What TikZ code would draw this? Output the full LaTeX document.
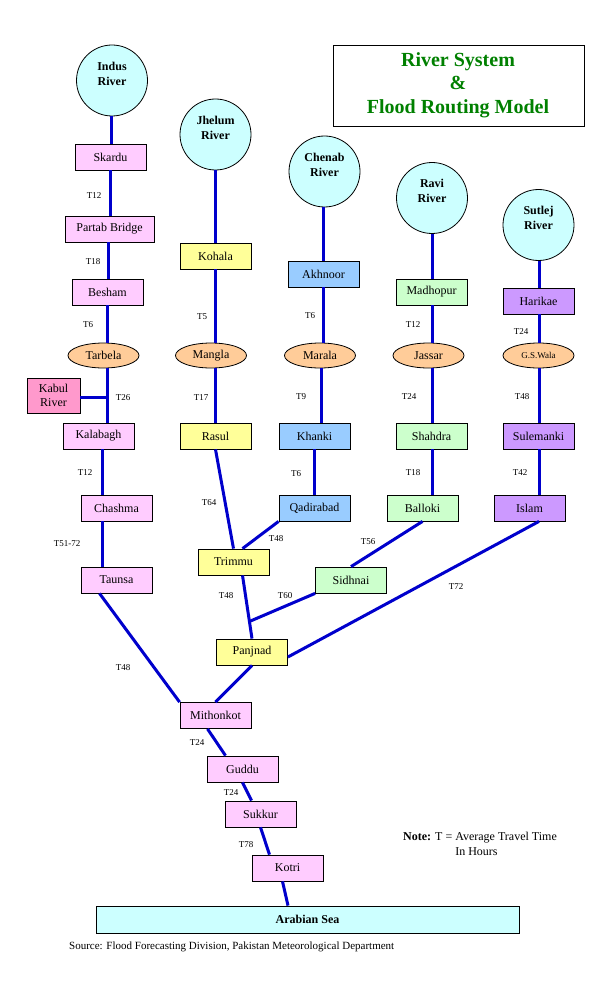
\documentclass[tikz,border=0pt]{standalone}
\usepackage{fontspec}
\setmainfont{Liberation Serif}
\usetikzlibrary{shapes.geometric}
\definecolor{riverblue}{RGB}{0,0,204}
\definecolor{pinkc}{RGB}{255,204,255}
\definecolor{kabulc}{RGB}{255,153,204}
\definecolor{yellowc}{RGB}{255,255,153}
\definecolor{bluec}{RGB}{153,204,255}
\definecolor{greenc}{RGB}{204,255,204}
\definecolor{purplec}{RGB}{204,153,255}
\definecolor{orangec}{RGB}{255,204,153}
\definecolor{cyanc}{RGB}{204,255,255}
\definecolor{titlegreen}{RGB}{0,128,0}
\begin{document}
\begin{tikzpicture}[x=1pt,y=-1pt,
  stbox/.style={draw=black, line width=0.8pt, rectangle, minimum width=71pt, minimum height=26pt, inner sep=0pt, font=\fontsize{12}{14}\selectfont},
  pinkbox/.style={stbox, fill=pinkc},
  yellowbox/.style={stbox, fill=yellowc},
  bluebox/.style={stbox, fill=bluec},
  greenbox/.style={stbox, fill=greenc},
  purplebox/.style={stbox, fill=purplec},
  dam/.style={draw=black, line width=0.8pt, ellipse, fill=orangec, minimum width=71pt, minimum height=25pt, inner sep=0pt, font=\fontsize{12}{14}\selectfont},
  source/.style={draw=black, line width=0.8pt, circle, fill=cyanc, minimum size=71pt, inner sep=0pt},
  srclabel/.style={align=center, font=\bfseries\fontsize{12}{15}\selectfont, yshift=7pt},
  river/.style={draw=riverblue, line width=3pt},
  tlab/.style={font=\fontsize{9}{10}\selectfont, inner sep=0pt}
]
\useasboundingbox (0,0) rectangle (612,1008);

% title
\node[draw=black, line width=0.8pt, minimum width=251pt, minimum height=81pt, inner sep=0pt] (title) at (458.5,85.5) {};
\node[align=center, text=titlegreen, font=\bfseries\fontsize{20}{23.5}\selectfont] (titletext) at (458,85) {River System\\\&\\Flood Routing Model};

% river sources
\node[source, label={[srclabel]center:Indus\\River}] (indus) at (112,80.5) {};
\node[source, label={[srclabel]center:Jhelum\\River}] (jhelum) at (215.5,134.5) {};
\node[source, label={[srclabel]center:Chenab\\River}] (chenab) at (324.5,171.5) {};
\node[source, label={[srclabel]center:Ravi\\River}] (ravi) at (432,198) {};
\node[source, label={[srclabel]center:Sutlej\\River}] (sutlej) at (538.5,225) {};

% Indus
\node[pinkbox] (skardu) at (110.5,157) {Skardu};
\node[pinkbox, minimum width=89pt] (partab) at (109.5,229) {Partab Bridge};
\node[pinkbox] (besham) at (107.5,292) {Besham};
\node[dam] (tarbela) at (103.5,355.5) {Tarbela};
\node[stbox, fill=kabulc, minimum width=53pt, minimum height=35pt, align=center, font=\fontsize{12}{14}\selectfont] (kabul) at (53.5,395.5) {Kabul\\River};
\node[pinkbox] (kalabagh) at (98.5,436) {Kalabagh};
\node[pinkbox] (chashma) at (116.5,508) {Chashma};
\node[pinkbox] (taunsa) at (116.5,580) {Taunsa};

% Jhelum
\node[yellowbox] (kohala) at (215.5,256) {Kohala};
\node[dam] (mangla) at (211,355.5) {Mangla};
\node[yellowbox] (rasul) at (215.5,436) {Rasul};

% Chenab
\node[bluebox] (akhnoor) at (323.5,274) {Akhnoor};
\node[dam] (marala) at (320,355.5) {Marala};
\node[bluebox] (khanki) at (314.5,436) {Khanki};
\node[bluebox] (qadirabad) at (314.5,508) {Qadirabad};
\node[yellowbox] (trimmu) at (233.5,562) {Trimmu};

% Ravi
\node[greenbox] (madhopur) at (431.5,292) {Madhopur};
\node[dam] (jassar) at (428.5,355.5) {Jassar};
\node[greenbox] (shahdra) at (431.5,436) {Shahdra};
\node[greenbox] (balloki) at (422.5,508) {Balloki};
\node[greenbox] (sidhnai) at (351,580) {Sidhnai};

% Sutlej
\node[purplebox] (harikae) at (538.5,301) {Harikae};
\node[dam, font=\fontsize{9}{10}\selectfont] (gswala) at (538.5,355.5) {G.S.Wala};
\node[purplebox] (sulemanki) at (538.5,436) {Sulemanki};
\node[purplebox] (islam) at (529.5,508) {Islam};

% lower Indus
\node[yellowbox] (panjnad) at (252,652) {Panjnad};
\node[pinkbox] (mithonkot) at (215.5,715.5) {Mithonkot};
\node[pinkbox] (guddu) at (242.5,769) {Guddu};
\node[pinkbox] (sukkur) at (260.5,814) {Sukkur};
\node[pinkbox] (kotri) at (287.5,868) {Kotri};
\node[draw=black, line width=0.8pt, fill=cyanc, minimum width=423pt, minimum height=27pt, inner sep=0pt, font=\bfseries\fontsize{12}{14}\selectfont] (sea) at (307.5,919.5) {Arabian Sea};

\coordinate (kabjoin) at (107,397);
\coordinate (sidjoin) at (250.5,621);

% Indus connectors
\draw[river] (indus.south -| 111,0) -- (skardu.north -| 111,0);
\draw[river] (skardu.south -| 110.5,0) -- (partab.north -| 110.5,0);
\draw[river] (partab.south -| 108,0) -- (besham.north -| 108,0);
\draw[river] (besham.south -| 107,0) -- (tarbela.north -| 107,0);
\draw[river] (tarbela.south -| 107,0) -- (kalabagh.north -| 107,0);
\draw[river] (kabul.east |- kabjoin) -- (kabjoin);
\draw[river] (kalabagh.south -| 102,0) -- (chashma.north -| 102,0);
\draw[river] (chashma.south -| 102,0) -- (taunsa.north -| 102,0);
\draw[river] ([xshift=-17pt]taunsa.south) -- (mithonkot.north west);

% Jhelum connectors
\draw[river] (jhelum.south -| 215,0) -- (kohala.north -| 215,0);
\draw[river] (kohala.south -| 215,0) -- (mangla.north -| 215,0);
\draw[river] (mangla.south -| 215,0) -- (rasul.north -| 215,0);
\draw[river] (rasul.south) -- (trimmu.north);

% Chenab connectors
\draw[river] (chenab.south -| 323,0) -- (akhnoor.north -| 323,0);
\draw[river] (akhnoor.south -| 323,0) -- (marala.north -| 323,0);
\draw[river] (marala.south -| 321,0) -- (khanki.north -| 321,0);
\draw[river] (khanki.south -| 314,0) -- (qadirabad.north -| 314,0);
\draw[river] (qadirabad.south west) -- ([xshift=9pt]trimmu.north);
\draw[river] ([xshift=9pt]trimmu.south) -- (panjnad.north);

% Ravi connectors
\draw[river] (ravi.south -| 432,0) -- (madhopur.north -| 432,0);
\draw[river] (madhopur.south -| 432,0) -- (jassar.north -| 432,0);
\draw[river] (jassar.south -| 432,0) -- (shahdra.north -| 432,0);
\draw[river] (shahdra.south -| 432,0) -- (balloki.north -| 432,0);
\draw[river] (balloki.south) -- (sidhnai.north);
\draw[river] (sidhnai.south west) -- (sidjoin);

% Sutlej connectors
\draw[river] (sutlej.south -| 539,0) -- (harikae.north -| 539,0);
\draw[river] (harikae.south -| 539,0) -- (gswala.north -| 539,0);
\draw[river] (gswala.south -| 539,0) -- (sulemanki.north -| 539,0);
\draw[river] (sulemanki.south -| 539,0) -- (islam.north -| 539,0);
\draw[river] (islam.south -| 539,0) -- ([yshift=-5pt]panjnad.east);

% lower connectors
\draw[river] (panjnad.south) -- (mithonkot.north);
\draw[river] ([xshift=-8pt]mithonkot.south) -- ([xshift=-17pt]guddu.north);
\draw[river] (guddu.south) -- ([xshift=-9pt]sukkur.north);
\draw[river] (sukkur.south) -- ([xshift=-18pt]kotri.north);
\draw[river] ([xshift=-5pt]kotri.south) -- (sea.north -| 288,0);

% travel time labels
\node[tlab] (l1) at (94,196) {T12};
\node[tlab] (l2) at (93,262) {T18};
\node[tlab] (l3) at (88,325) {T6};
\node[tlab] (l4) at (123,398) {T26};
\node[tlab] (l5) at (85,473) {T12};
\node[tlab] (l6) at (67,544) {T51-72};
\node[tlab] (l7) at (123,668) {T48};
\node[tlab] (l8) at (202,317) {T5};
\node[tlab] (l9) at (201,398) {T17};
\node[tlab] (l10) at (209,503) {T64};
\node[tlab] (l11) at (310,316) {T6};
\node[tlab] (l12) at (301,397) {T9};
\node[tlab] (l13) at (296,474) {T6};
\node[tlab] (l14) at (276,539) {T48};
\node[tlab] (l15) at (226,596) {T48};
\node[tlab] (l16) at (285,596) {T60};
\node[tlab] (l17) at (413,325) {T12};
\node[tlab] (l18) at (409,397) {T24};
\node[tlab] (l19) at (413,473) {T18};
\node[tlab] (l20) at (368,542) {T56};
\node[tlab] (l21) at (521,332) {T24};
\node[tlab] (l22) at (522,397) {T48};
\node[tlab] (l23) at (520,473) {T42};
\node[tlab] (l24) at (456,587) {T72};
\node[tlab] (l25) at (197,743) {T24};
\node[tlab] (l26) at (231,793) {T24};
\node[tlab] (l27) at (246,845) {T78};

% note and source
\node[anchor=north west, inner sep=0pt, font=\fontsize{12}{15}\selectfont, align=left] (note) at (403,832) {\textbf{Note:} T = Average Travel Time\\\phantom{\textbf{Note:} T = }In Hours};
\node[anchor=west, inner sep=0pt, font=\fontsize{11}{13}\selectfont] (src) at (69,947) {Source: Flood Forecasting Division, Pakistan Meteorological Department};
\end{tikzpicture}
\end{document}
